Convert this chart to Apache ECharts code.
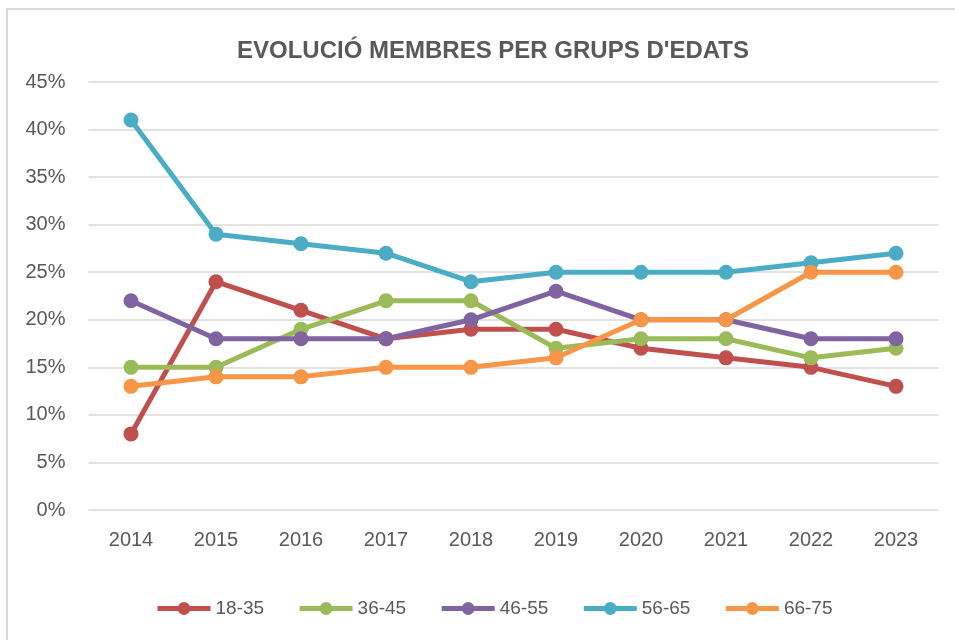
<!DOCTYPE html>
<html><head><meta charset="utf-8">
<script src="https://cdn.jsdelivr.net/npm/echarts@6/dist/echarts.min.js"></script>
<style>
html,body{margin:0;padding:0;background:#fff;}
#frame{position:absolute;left:6px;top:8px;width:970px;height:650px;border:2px solid #d9d9d9;box-sizing:border-box;}
#c{position:absolute;left:0;top:0;width:955px;height:640px;}
</style></head>
<body>
<div id="frame"></div>
<div id="c"></div>
<script>
const years = ['2014','2015','2016','2017','2018','2019','2020','2021','2022','2023'];
const seriesNames = ['18-35','36-45','46-55','56-65','66-75'];
const s1835 = [8,24,21,18,19,19,17,16,15,13];
const s3645 = [15,15,19,22,22,17,18,18,16,17];
const s4655 = [22,18,18,18,20,23,20,20,18,18];
const s5665 = [41,29,28,27,24,25,25,25,26,27];
const s6675 = [13,14,14,15,15,16,20,20,25,25];
const colors = ['#c0504d','#9bbb59','#8064a2','#4bacc6','#f79646'];
const allData = [s1835,s3645,s4655,s5665,s6675];
const font = 'Liberation Sans, Arial, sans-serif';
const chart = echarts.init(document.getElementById('c'));
chart.setOption({
  animation:false,
  title:{text:"EVOLUCIÓ MEMBRES PER GRUPS D'EDATS",left:232,top:34,
    textStyle:{fontFamily:font,fontSize:24,fontWeight:'bold',color:'#595959'}},
  color:colors,
  legend:{top:594,left:150,itemWidth:53,itemHeight:16,itemGap:33,
    lineStyle:{width:5},
    textStyle:{fontFamily:font,fontSize:19,color:'#595959'},
    data:seriesNames},
  grid:{left:88.5,right:16.5,top:82,bottom:130,containLabel:false},
  xAxis:{type:'category',data:years,boundaryGap:true,
    axisLine:{show:false},axisTick:{show:false},
    axisLabel:{fontFamily:font,fontSize:20,color:'#595959',margin:20}},
  yAxis:{type:'value',min:0,max:45,interval:5,
    axisLabel:{formatter:'{value}%',fontFamily:font,fontSize:20,color:'#595959',margin:23}, 
    splitLine:{lineStyle:{color:'#d9d9d9',width:1.5}},axisLine:{show:false},axisTick:{show:false}},
  series: seriesNames.map((n,i)=>({name:n,type:'line',data:allData[i],
    symbol:'circle',symbolSize:15,lineStyle:{width:5,color:colors[i]},itemStyle:{color:colors[i]}}))
});
</script>
</body></html>
